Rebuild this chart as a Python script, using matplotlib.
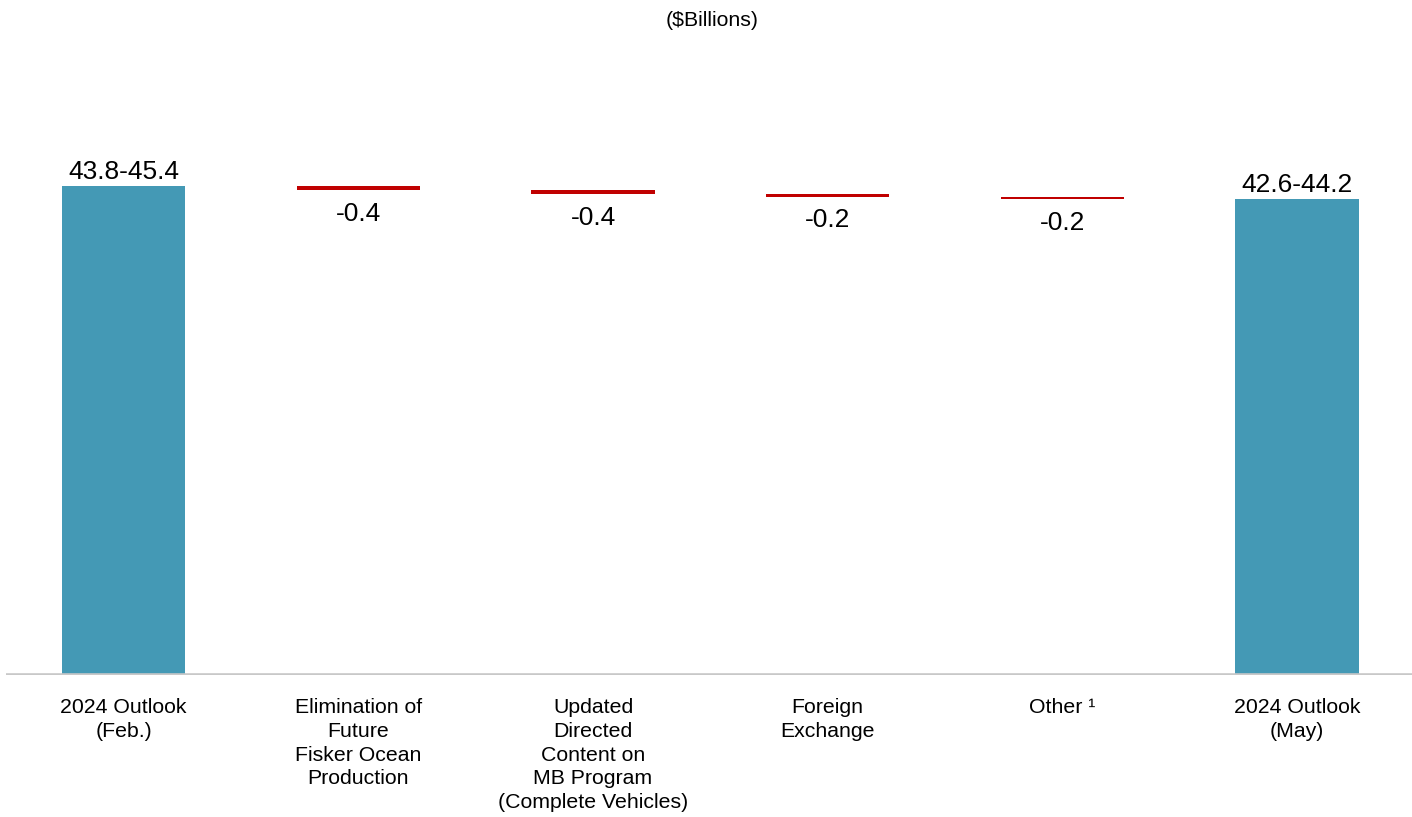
import numpy as np
import matplotlib.pyplot as plt

plt.rcParams["font.family"] = ["Liberation Sans", "DejaVu Sans"]

# revenue bridge, $ billions
categories = [
    "2024 Outlook\n(Feb.)",
    "Elimination of\nFuture\nFisker Ocean\nProduction",
    "Updated\nDirected\nContent on\nMB Program\n(Complete Vehicles)",
    "Foreign\nExchange",
    "Other \u00b9",
    "2024 Outlook\n(May)",
]
start_range = [43.8, 45.4]
end_range = [42.6, 44.2]
deltas = [-0.4, -0.4, -0.2, -0.2]

BLUE = "#4499B5"
RED = "#C00000"

fig = plt.figure(figsize=(14.12, 8.17), dpi=100)
ax = fig.add_axes([0.004, 0.1738, 0.996, 0.765])

x = np.arange(len(categories))
width = 0.525

# end bars
ax.bar(x[0], start_range[1], width=width, color=BLUE)
ax.bar(x[-1], end_range[1], width=width, color=BLUE)
ax.annotate(f"{start_range[0]}-{start_range[1]}", (x[0], start_range[1]),
            xytext=(0, 1.5), textcoords="offset points",
            ha="center", va="bottom", fontsize=19)
ax.annotate(f"{end_range[0]}-{end_range[1]}", (x[-1], end_range[1]),
            xytext=(0, 1.5), textcoords="offset points",
            ha="center", va="bottom", fontsize=19)

# floating steps
level = start_range[1]
for i, d in enumerate(deltas, start=1):
    ax.bar(x[i], d, bottom=level, width=width, color=RED)
    ax.annotate(f"{d}", (x[i], level + d),
                xytext=(0, -8.5), textcoords="offset points",
                ha="center", va="top", fontsize=19)
    level += d

ax.axhline(0, color="#C8C8C8", linewidth=2.6, zorder=3)

ax.set_xlim(-0.503, 5.49)
ax.set_ylim(0, 58.0)
ax.set_yticks([])
ax.set_xticks(x)
ax.set_xticklabels(categories, fontsize=15.3, linespacing=1.32)
ax.tick_params(axis="x", length=0, pad=16.5)
for s in ax.spines.values():
    s.set_visible(False)

fig.text(0.504, 0.975, r"(\$Billions)", ha="center", va="center", fontsize=15.3)

fig.savefig("out.png", dpi=100)
